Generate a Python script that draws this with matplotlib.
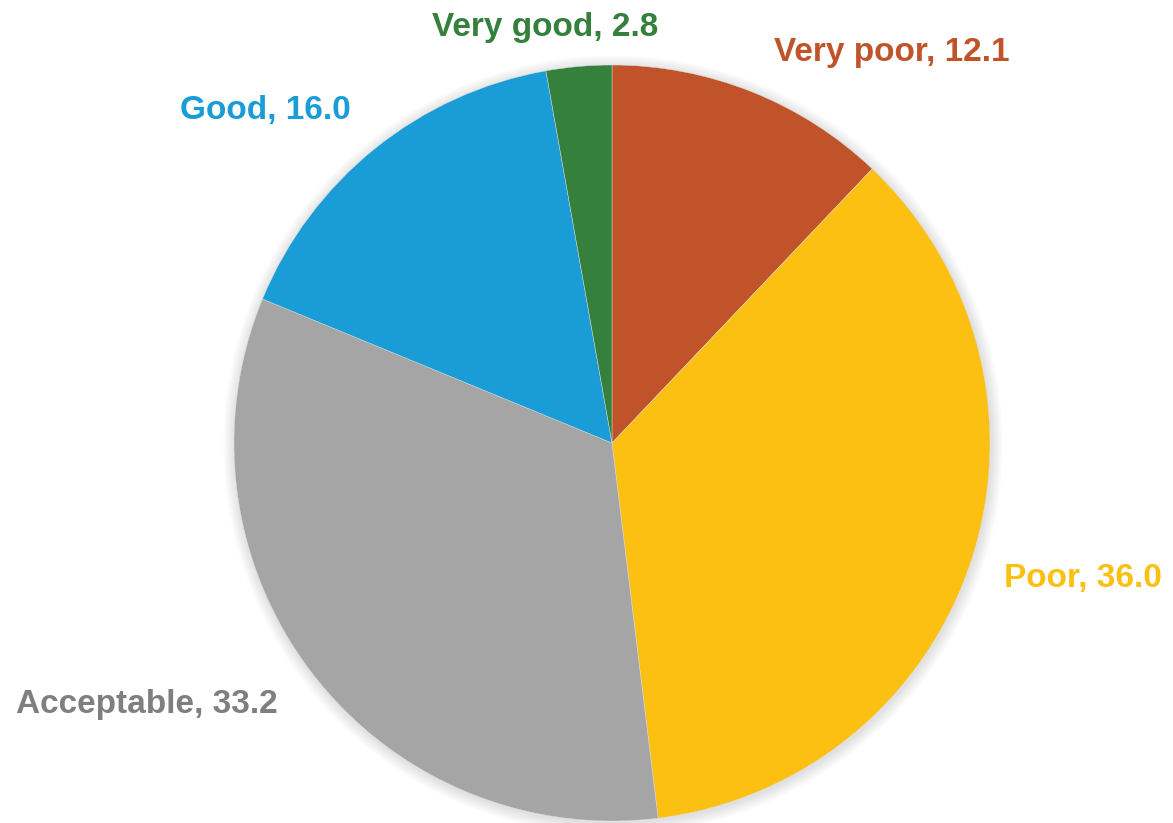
import matplotlib.pyplot as plt
from matplotlib.patches import Circle

labels = ["Very poor", "Poor", "Acceptable", "Good", "Very good"]
values = [12.1, 36.0, 33.2, 16.0, 2.8]
colors = ["#C0532A", "#FBC012", "#A5A5A5", "#1A9CD6", "#35803C"]
text_colors = ["#C0532A", "#FBC012", "#7F7F7F", "#1A9CD6", "#35803C"]

# label anchor points (pixels from top-left)
label_pos = [(892, 52), (1083, 578), (147, 705), (265, 110), (545, 27)]

W, H = 1173, 823
cx, cy, r = 612, H - 443, 378

fig = plt.figure(figsize=(W / 100, H / 100), dpi=100)
ax = fig.add_axes([0, 0, 1, 1])

# soft drop shadow around the pie
for i in range(10):
    ax.add_patch(Circle((cx + 1, cy - 2), r + 1 + i * 1.2, color="black",
                        alpha=0.012, lw=0, zorder=0))

ax.pie(values, colors=colors, startangle=90, counterclock=False,
       center=(cx, cy), radius=r, frame=True,
       wedgeprops=dict(linewidth=0.3, edgecolor="#e0e0e0"))
ax.set_xlim(0, W)
ax.set_ylim(0, H)
ax.set_aspect("equal")
ax.axis("off")

for lab, v, (x, y), c in zip(labels, values, label_pos, text_colors):
    ax.text(x, H - y, f"{lab}, {v:.1f}", color=c, fontsize=24, fontweight="bold",
            family="Liberation Sans", ha="center", va="center")

fig.savefig("out.png", dpi=100)
